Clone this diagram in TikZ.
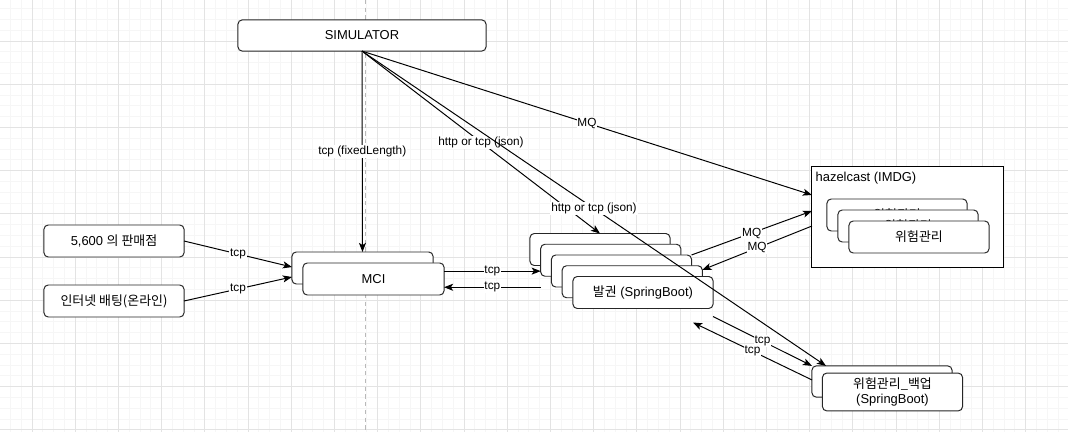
\documentclass[tikz,border=0pt]{standalone}
\usepackage{fontspec}
\setmainfont{Liberation Sans}
\newfontfamily\kr{Noto Sans CJK KR}
\usetikzlibrary{arrows.meta, calc}
\tikzstyle{box}       = [rectangle, rounded corners=3pt, minimum width=3.5cm, minimum height=0.8cm,
                         text centered, draw=black!85, fill=white, line width=0.7pt, outer sep=0pt,
                         font=\fontsize{9.2}{10.6}\selectfont]
\tikzstyle{container} = [rectangle, minimum width=4.775cm, minimum height=2.5cm,
                         draw=black, fill=white, line width=0.7pt, outer sep=0pt]
\tikzstyle{arrow}     = [-{Stealth[length=6.5pt, width=5pt, inset=1.6pt]}, line width=0.7pt]
\tikzstyle{lbl}       = [fill=white, inner sep=0.6pt, font=\fontsize{8.4}{10}\selectfont]
\tikzstyle{gridminor} = [gray!7, line width=0.5pt]
\tikzstyle{gridmajor} = [gray!22, line width=0.5pt]

\begin{document}
\begin{tikzpicture}[x=0.025cm, y=-0.025cm]
  % canvas and grid
  \fill[white] (0,0) rectangle (1068,432);
  \useasboundingbox (0,0) rectangle (1068,432);
  \foreach \gx in {10.4,21.2,...,1068} \draw[gridminor] (\gx,0) -- (\gx,432);
  \foreach \gy in {8.6,19.4,...,432} \draw[gridminor] (0,\gy) -- (1068,\gy);
  \foreach \gx in {32,75.2,...,1068} \draw[gridmajor] (\gx,0) -- (\gx,432);
  \foreach \gy in {41,84.2,...,432} \draw[gridmajor] (0,\gy) -- (1068,\gy);
  \draw[gray!55, line width=0.6pt, dash pattern=on 3pt off 2.5pt] (365,0) -- (365,432);

  % nodes
  \node (sim)    [box, minimum width=6.2cm, minimum height=0.78cm] at (362,35.5) {SIMULATOR};
  \node (shop)   [box] at (114,241) {5,600 {\kr 의 판매점}};
  \node (online) [box] at (114,301) {{\kr 인터넷 배팅(온라인)}};

  \node (mciback) [box, minimum width=3.525cm] at (362.5,268) {};
  \node (mci)     [box, minimum width=3.525cm] at (373.5,279) {MCI};

  \foreach \i/\x/\y in {0/600/249.5, 1/610.75/260.25, 2/621.5/271, 3/632.25/281.75}
    \node (bal\i) [box] at (\x,\y) {};
  \node (bal) [box] at (643,292.5) {{\kr 발권} (SpringBoot)};

  \node (hz) [container] at (907.5,217) {};
  \node [anchor=west, inner sep=1pt, font=\fontsize{9.2}{11}\selectfont]
        at ($(hz.north west)+(2,11)$) {hazelcast (IMDG)};
  \foreach \i/\x/\y in {0/897/215, 1/908/226}
    \node (risk\i) [box] at (\x,\y) {\raisebox{-2pt}{\kr 위험관리}};
  \node (risk) [box] at (919,237) {{\kr 위험관리}};

  \node (backup0) [box, minimum height=0.78cm] at (882,381.5) {};
  \node (backup)  [box, minimum height=0.78cm, align=center] at (892.5,392)
        {{\kr 위험관리\_백업}\\(SpringBoot)};

  % connection points
  \coordinate (hzin1)   at ($(hz.north west)!0.28!(hz.south west)$);
  \coordinate (hzin2)   at ($(hz.north west)!0.44!(hz.south west)$);
  \coordinate (hzout)   at ($(hz.north west)!0.59!(hz.south west)$);
  \coordinate (bkin)    at ($(backup0.north west)!0.1!(backup0.north east)$);
  \coordinate (bkout)   at ($(backup0.north west)!0.45!(backup0.south west)$);
  \coordinate (mcin1)   at ($(mciback.north west)!0.47!(mciback.south west)$);
  \coordinate (mcin2)   at ($(mciback.north west)!0.78!(mciback.south west)$);
  \coordinate (balin)   at ($(bal1.north west)!0.84!(bal1.south west)$);
  \coordinate (balout)  at ($(bal1.south west)+(0,11)$);
  \coordinate (mciin)   at (mci.east |- balout);
  \coordinate (mciout)  at (mci.east |- balin);
  \coordinate (mqin)    at ($(bal3.north east)!0.13!(bal3.south east)$);
  \coordinate (tcpout)  at ($(bal.south east)+(0,8)$);
  \coordinate (tcpin)   at ($(bal.south east)+(-20,14)$);

  % connectors
  \draw [arrow] (sim.south) -- node[lbl] {tcp (fixedLength)} (mciback.north);
  \draw [arrow] (sim.south) -- node[lbl] {http or tcp (json)} (bal0.north);
  \draw [arrow] (sim.south) -- node[lbl] {http or tcp (json)} (bkin);
  \draw [arrow] (sim.south) -- node[lbl] {MQ} (hzin1);
  \draw [arrow] (shop.east)   -- node[lbl] {tcp} (mcin1);
  \draw [arrow] (online.east) -- node[lbl] {tcp} (mcin2);
  \draw [arrow] (mciout) -- node[lbl] {tcp} (balin);
  \draw [arrow] (balout) -- node[lbl] {tcp} (mciin);
  \draw [arrow] (bal2.north east) -- node[lbl] {MQ} (hzin2);
  \draw [arrow] (hzout)  -- node[lbl] {MQ} (mqin);
  \draw [arrow] (tcpout) -- node[lbl] {tcp} (backup0.north west);
  \draw [arrow] (bkout)  -- node[lbl] {tcp} (tcpin);
\end{tikzpicture}
\end{document}
